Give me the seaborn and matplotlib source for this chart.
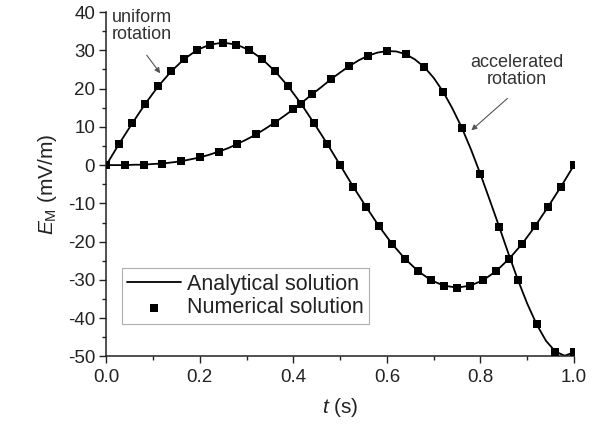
import matplotlib
matplotlib.use("Agg")
import matplotlib.pyplot as plt
import seaborn as sns
import pandas as pd

# ----------------------------
# Data
# ----------------------------
# uniform rotation, numerical points every 1/36 s
t_uni = [k / 36 for k in range(37)]
e_uni = [0.0, 5.6, 10.9, 16.0, 20.6, 24.5, 27.7, 30.1, 31.5, 32.0,
         31.5, 30.1, 27.7, 24.5, 20.6, 16.0, 10.9, 5.6, 0.0,
         -5.6, -10.9, -16.0, -20.6, -24.5, -27.7, -30.1, -31.5, -32.0,
         -31.5, -30.1, -27.7, -24.5, -20.6, -16.0, -10.9, -5.6, 0.0]

# accelerated rotation, numerical points every 0.04 s
t_acc = [0.00, 0.04, 0.08, 0.12, 0.16, 0.20, 0.24, 0.28, 0.32, 0.36, 0.40,
         0.44, 0.48, 0.52, 0.56, 0.60, 0.64, 0.68, 0.72, 0.76, 0.80,
         0.84, 0.88, 0.92, 0.96, 1.00]
e_acc = [0.0, 0.0, 0.1, 0.4, 1.0, 2.0, 3.5, 5.5, 8.0, 11.1, 14.6,
         18.5, 22.4, 25.9, 28.6, 29.8, 29.0, 25.6, 19.2, 9.8, -2.4,
         -16.1, -30.0, -41.6, -48.7, -48.9]

# accelerated rotation, analytical curve read every 0.02 s
t_acc_line = [i / 50 for i in range(51)]
e_acc_line = [0.0, 0.0, 0.0, 0.1, 0.1, 0.3, 0.4, 0.7, 1.0, 1.5, 2.0,
              2.7, 3.5, 4.4, 5.5, 6.7, 8.0, 9.5, 11.1, 12.8, 14.6,
              16.5, 18.5, 20.4, 22.4, 24.2, 25.9, 27.4, 28.6, 29.4, 29.8,
              29.7, 29.0, 27.6, 25.6, 22.8, 19.2, 14.8, 9.8, 4.0, -2.4,
              -9.2, -16.1, -23.2, -30.0, -36.2, -41.6, -45.9, -48.7, -49.8, -48.9]

uni = pd.DataFrame({"t": t_uni, "E": e_uni})
acc = pd.DataFrame({"t": t_acc, "E": e_acc})
acc_line = pd.DataFrame({"t": t_acc_line, "E": e_acc_line})

# ----------------------------
# Style
# ----------------------------
sns.set_theme(style="ticks")
plt.rcParams["font.family"] = ["Liberation Sans", "DejaVu Sans"]
plt.rcParams["mathtext.fontset"] = "custom"
plt.rcParams["mathtext.rm"] = "Liberation Sans"
plt.rcParams["mathtext.it"] = "Liberation Sans:italic"
plt.rcParams["axes.unicode_minus"] = False

INK = "#222222"

fig = plt.figure(figsize=(6.07, 4.32), dpi=100)
ax = fig.add_axes([0.1750, 0.1748, 0.7707, 0.7974])

sns.lineplot(data=uni, x="t", y="E", color="black", linewidth=1.3,
             sort=False, ax=ax, label="Analytical solution")
sns.lineplot(data=acc_line, x="t", y="E", color="black", linewidth=1.3,
             sort=False, ax=ax, label="_nolegend_")
sns.scatterplot(data=uni, x="t", y="E", marker="s", color="black", s=26,
                linewidth=0, ax=ax, label="Numerical solution", zorder=3)
sns.scatterplot(data=acc, x="t", y="E", marker="s", color="black", s=26,
                linewidth=0, ax=ax, label="_nolegend_", zorder=3)

ax.set_xlim(0, 1.0)
ax.set_ylim(-50, 40)
ax.set_xticks([0.0, 0.2, 0.4, 0.6, 0.8, 1.0])
ax.set_xticks([0.1, 0.3, 0.5, 0.7, 0.9], minor=True)
ax.set_yticks(range(-50, 41, 10))
ax.set_yticks(range(-45, 40, 10), minor=True)
ax.set_xticklabels(["0.0", "0.2", "0.4", "0.6", "0.8", "1.0"])
ax.tick_params(which="major", length=5, width=1, labelsize=13.5, color=INK,
               labelcolor=INK)
ax.tick_params(axis="x", which="major", pad=4)
ax.tick_params(axis="y", which="major", pad=3)
ax.tick_params(which="minor", length=3, width=1, color=INK)
sns.despine(ax=ax)
for s in ["left", "bottom"]:
    ax.spines[s].set_linewidth(1.1)
    ax.spines[s].set_color(INK)

ax.set_xlabel(r"$t$ (s)", fontsize=15, color=INK, labelpad=7)
ax.set_ylabel(r"$E_\mathrm{M}$ (mV/m)", fontsize=15, color=INK, labelpad=6)

# annotations
ax.text(0.012, 40.8, "uniform\nrotation", ha="left", va="top", fontsize=13,
        color="#333333", linespacing=1.0)
ax.annotate("", xy=(0.119, 23.4), xytext=(0.083, 29.3),
            arrowprops=dict(arrowstyle="-|>", color="#555555", lw=0.8,
                            mutation_scale=8))
ax.text(0.878, 29.0, "accelerated\nrotation", ha="center", va="top", fontsize=13,
        color="#333333", linespacing=1.0)
ax.annotate("", xy=(0.776, 8.6), xytext=(0.862, 17.9),
            arrowprops=dict(arrowstyle="-|>", color="#555555", lw=0.8,
                            mutation_scale=8))

leg = ax.legend(loc="upper left", bbox_to_anchor=(0.033, 0.256), borderaxespad=0,
                fontsize=15.5, frameon=True, fancybox=False, handlelength=2.5,
                handletextpad=0.3, borderpad=0.25, labelspacing=0.12)
leg.get_frame().set_edgecolor("#999999")
leg.get_frame().set_linewidth(0.8)
for txt in leg.get_texts():
    txt.set_color(INK)

plt.savefig("out.png", dpi=100)
